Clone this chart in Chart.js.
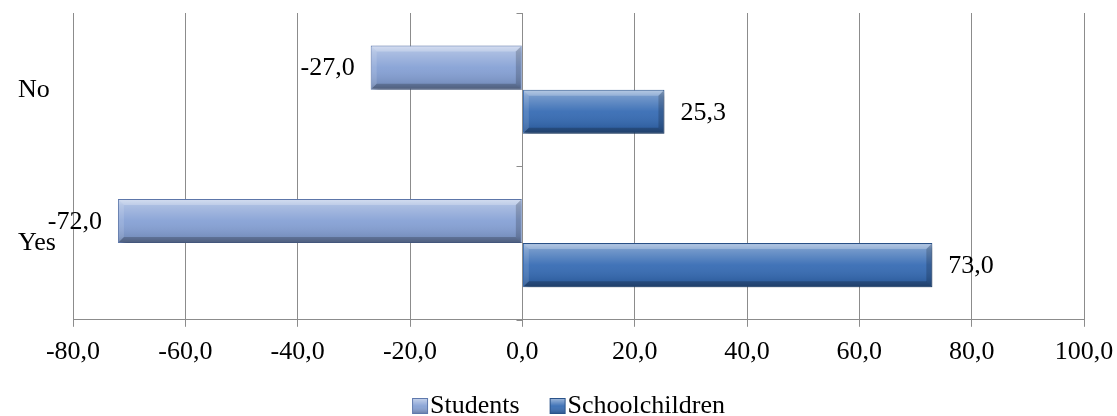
<!DOCTYPE html>
<html>
<head>
<meta charset="utf-8">
<script src="https://cdn.jsdelivr.net/npm/chart.js@4.4.0/dist/chart.umd.min.js"></script>
<style>
  html, body { margin: 0; padding: 0; background: #ffffff; }
  #wrap { width: 1117px; height: 416px; position: relative; }
</style>
</head>
<body>
<div id="wrap"><canvas id="c" width="1117" height="416"></canvas></div>
<script>
const categories = ['No', 'Yes'];
const studentsValues = [-27.0, -72.0];
const schoolchildrenValues = [25.3, 73.0];
const seriesNames = ['Students', 'Schoolchildren'];
const xMin = -80, xMax = 100, xStep = 20;

const FONT = "'Liberation Serif', 'Times New Roman', serif";
const GRID = '#8c8c8c';
const fmt = v => v.toFixed(1).replace('.', ',');

const fills = ['#86a1d5', '#376cb4'];
const borders = ['#5f79ad', '#2a5289'];
const LEGEND_PAD = 31;
const LEGEND_CENTER_X = 569;
const LEGEND_CENTER_Y = 406;

// Legend swatches with a little gloss, drawn into small canvases
function makeSwatch(fill, border) {
  const c = document.createElement('canvas');
  c.width = 30; c.height = 16;
  const g = c.getContext('2d');
  g.fillStyle = fill;
  g.fillRect(12, 0, 16, 16);
  const gr = g.createLinearGradient(0, 0, 0, 16);
  gr.addColorStop(0, 'rgba(255,255,255,0.55)');
  gr.addColorStop(0.5, 'rgba(255,255,255,0.05)');
  gr.addColorStop(1, 'rgba(0,0,0,0.25)');
  g.fillStyle = gr;
  g.fillRect(12, 0, 16, 16);
  g.strokeStyle = border;
  g.lineWidth = 1;
  g.strokeRect(12.5, 0.5, 15, 15);
  return c;
}
const swatches = [makeSwatch(fills[0], borders[0]), makeSwatch(fills[1], borders[1])];

// Drop shadow behind bars
const shadowPlugin = {
  id: 'barShadow',
  beforeDatasetsDraw(chart) {
    const ctx = chart.ctx;
    ctx.save();
    ctx.shadowColor = 'rgba(0,0,0,0.35)';
    ctx.shadowBlur = 5;
    ctx.shadowOffsetX = 3;
    ctx.shadowOffsetY = 3;
  },
  afterDatasetsDraw(chart) {
    chart.ctx.restore();
  }
};

// Bevel / gloss overlay and value labels
const bevelPlugin = {
  id: 'bevel',
  afterDatasetsDraw(chart) {
    const ctx = chart.ctx;
    chart.data.datasets.forEach((ds, di) => {
      const meta = chart.getDatasetMeta(di);
      meta.data.forEach((bar, i) => {
        const p = bar.getProps(['x', 'y', 'base', 'height'], true);
        const x0 = Math.min(p.x, p.base), x1 = Math.max(p.x, p.base);
        const y0 = p.y - p.height / 2, y1 = p.y + p.height / 2;
        const w = x1 - x0, h = y1 - y0;
        const b = 6;
        ctx.save();
        const g = ctx.createLinearGradient(0, y0, 0, y1);
        g.addColorStop(0, 'rgba(255,255,255,0.55)');
        g.addColorStop(0.15, 'rgba(255,255,255,0.30)');
        g.addColorStop(0.5, 'rgba(255,255,255,0.05)');
        g.addColorStop(0.85, 'rgba(0,0,0,0.10)');
        g.addColorStop(1, 'rgba(0,0,0,0.28)');
        ctx.fillStyle = g;
        ctx.fillRect(x0 + 1, y0 + 1, w - 2, h - 2);
        if (w > 2 * b) {
          ctx.fillStyle = 'rgba(255,255,255,0.22)';
          ctx.beginPath();
          ctx.moveTo(x0 + 1, y0 + 1); ctx.lineTo(x1 - 1, y0 + 1);
          ctx.lineTo(x1 - b, y0 + b); ctx.lineTo(x0 + b, y0 + b); ctx.closePath(); ctx.fill();
          ctx.fillStyle = 'rgba(0,0,0,0.20)';
          ctx.beginPath();
          ctx.moveTo(x0 + 1, y1 - 1); ctx.lineTo(x1 - 1, y1 - 1);
          ctx.lineTo(x1 - b, y1 - b); ctx.lineTo(x0 + b, y1 - b); ctx.closePath(); ctx.fill();
          ctx.fillStyle = 'rgba(255,255,255,0.12)';
          ctx.beginPath();
          ctx.moveTo(x0 + 1, y0 + 1); ctx.lineTo(x0 + b, y0 + b);
          ctx.lineTo(x0 + b, y1 - b); ctx.lineTo(x0 + 1, y1 - 1); ctx.closePath(); ctx.fill();
          ctx.fillStyle = 'rgba(0,0,0,0.18)';
          ctx.beginPath();
          ctx.moveTo(x1 - 1, y0 + 1); ctx.lineTo(x1 - b, y0 + b);
          ctx.lineTo(x1 - b, y1 - b); ctx.lineTo(x1 - 1, y1 - 1); ctx.closePath(); ctx.fill();
        }
        ctx.restore();

        const v = ds.data[i];
        ctx.save();
        ctx.font = '26px ' + FONT;
        ctx.fillStyle = '#000000';
        ctx.textBaseline = 'middle';
        if (v < 0) {
          ctx.textAlign = 'right';
          ctx.fillText(fmt(v), p.x - 16, p.y + 1);
        } else {
          ctx.textAlign = 'left';
          ctx.fillText(fmt(v), p.x + 16, p.y + 1);
        }
        ctx.restore();
      });
    });
  }
};

// Small category tick marks on the zero line
const zeroTicksPlugin = {
  id: 'zeroTicks',
  afterDraw(chart) {
    const ctx = chart.ctx;
    const xs = chart.scales.x, ys = chart.scales.y;
    const x0 = Math.round(xs.getPixelForValue(0)) + 0.5;
    const n = categories.length;
    ctx.save();
    ctx.strokeStyle = GRID;
    ctx.lineWidth = 1;
    for (let k = 0; k <= n; k++) {
      const y = Math.round(ys.top + (ys.bottom - ys.top) * k / n) + 0.5;
      ctx.beginPath();
      ctx.moveTo(x0 - 6, y);
      ctx.lineTo(x0, y);
      ctx.stroke();
    }
    ctx.restore();
  }
};

// Place the legend row where the reference has it
const legendPlacePlugin = {
  id: 'legendPlace',
  afterLayout(chart) {
    const l = chart.legend;
    if (!l) return;
    const dx = LEGEND_CENTER_X - (l.left + l.right) / 2;
    l.left += dx; l.right += dx;
    const newTop = LEGEND_CENTER_Y - 13 - LEGEND_PAD;
    const dy = newTop - l.top;
    l.top += dy; l.bottom += dy;
  }
};

new Chart(document.getElementById('c'), {
  type: 'bar',
  data: {
    labels: categories,
    datasets: [
      { label: seriesNames[0], data: studentsValues, backgroundColor: fills[0], borderColor: borders[0], borderWidth: 1 },
      { label: seriesNames[1], data: schoolchildrenValues, backgroundColor: fills[1], borderColor: borders[1], borderWidth: 1 }
    ]
  },
  options: {
    indexAxis: 'y',
    responsive: false,
    animation: false,
    layout: { padding: { top: 13, left: 18, right: 33, bottom: -29 } },
    datasets: { bar: { categoryPercentage: 0.575, barPercentage: 1.0 } },
    scales: {
      x: {
        min: xMin, max: xMax,
        ticks: {
          stepSize: xStep,
          color: '#000000',
          font: { family: FONT, size: 26 },
          padding: 10,
          callback: v => fmt(v)
        },
        grid: { color: GRID, lineWidth: 1, drawTicks: true, tickLength: 7, tickColor: GRID },
        border: { display: true, color: GRID, width: 1 },
        afterFit(scale) { scale.paddingLeft = 0; scale.paddingRight = 0; }
      },
      y: {
        ticks: {
          color: '#000000',
          font: { family: FONT, size: 26 },
          crossAlign: 'far',
          padding: 4
        },
        grid: { display: false, drawTicks: false },
        border: { display: false },
        afterFit(scale) { scale.width = 55; scale.paddingTop = 0; scale.paddingBottom = 0; }
      }
    },
    plugins: {
      legend: {
        position: 'bottom',
        labels: {
          color: '#000000',
          font: { family: FONT, size: 26 },
          usePointStyle: true,
          pointStyleWidth: 4,
          boxHeight: 16,
          padding: LEGEND_PAD,
          generateLabels(chart) {
            const base = Chart.defaults.plugins.legend.labels.generateLabels(chart);
            return base.map((item, i) => Object.assign(item, { pointStyle: swatches[i] }));
          }
        }
      },
      tooltip: { enabled: false }
    }
  },
  plugins: [shadowPlugin, bevelPlugin, zeroTicksPlugin, legendPlacePlugin]
});
</script>
</body>
</html>
